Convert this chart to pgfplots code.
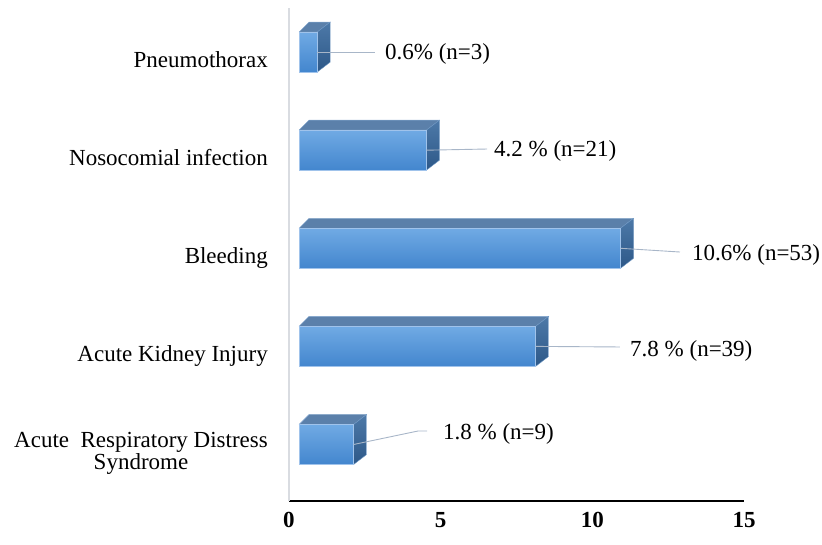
\documentclass[border=0pt]{standalone}
\usepackage{pgfplots}
\pgfplotsset{compat=1.18}
\usepackage{fontspec}
\setmainfont{Liberation Serif}

\definecolor{fronttop}{RGB}{112,170,228}
\definecolor{frontbot}{RGB}{67,134,206}
\definecolor{topc}{RGB}{91,128,170}
\definecolor{sidetop}{RGB}{77,121,168}
\definecolor{sidebot}{RGB}{45,88,136}
\definecolor{edgec}{RGB}{160,195,235}
\definecolor{leaderc}{RGB}{168,182,200}
\definecolor{yaxisc}{RGB}{217,220,225}

% geometry of the 3-D bars (axis units)
\def\xo{0.33}   % front face starts here
\def\hh{0.2039} % half height of the front face
\def\dyy{0.1019}% depth, vertical
\def\dxr{0.4286}% depth, horizontal (right)
\def\dxl{0.33}  % depth, horizontal (left)

\pgfplotsset{
  frontface/.style={mark=none, draw=edgec, line width=0.4pt, top color=fronttop, bottom color=frontbot},
  topface/.style={mark=none, draw=edgec!60!topc, line width=0.4pt, fill=topc},
  sideface/.style={mark=none, draw=edgec!40!sidetop, line width=0.4pt, top color=sidetop, bottom color=sidebot},
  leader/.style={mark=none, draw=leaderc, line width=0.9pt},
}

% #1 = category index, #2 = value (%)
\newcommand\threedbar[2]{%
  \pgfmathsetmacro\xa{\xo}%
  \pgfmathsetmacro\xb{\xo+#2}%
  \pgfmathsetmacro\xc{\xo+#2+\dxr}%
  \pgfmathsetmacro\xd{\xo+\dxl}%
  \pgfmathsetmacro\ya{#1-\hh}%
  \pgfmathsetmacro\yb{#1+\hh}%
  \pgfmathsetmacro\yc{#1+\hh+\dyy}%
  \pgfmathsetmacro\yd{#1-\hh+\dyy}%
  \edef\temp{%
    \noexpand\addplot[topface] coordinates {(\xa,\yb) (\xb,\yb) (\xc,\yc) (\xd,\yc) (\xa,\yb)};
    \noexpand\addplot[sideface] coordinates {(\xb,\yb) (\xc,\yc) (\xc,\yd) (\xb,\ya) (\xb,\yb)};
    \noexpand\addplot[frontface] coordinates {(\xa,\ya) (\xb,\ya) (\xb,\yb) (\xa,\yb) (\xa,\ya)};
  }\temp
}

\begin{document}
\fontsize{23}{20}\selectfont
\begin{tikzpicture}
\useasboundingbox (-289pt,-43pt) rectangle (533pt,501pt);
\begin{axis}[
  scale only axis,
  width=455pt, height=493pt,
  xmin=0, xmax=15,
  ymin=-0.576, ymax=4.4495,
  axis x line*=bottom,
  axis y line*=left,
  x axis line style={black, line width=1.3pt},
  y axis line style={yaxisc, line width=1.3pt},
  major tick length=0pt,
  xtick={0,5,10,15},
  xticklabels={0,5,10,15},
  xticklabel style={font=\fontsize{23}{20}\selectfont\bfseries, anchor=north, inner sep=0pt, yshift=-11pt},
  ytick={0,1,2,3,4},
  yticklabels={
    {\raisebox{11.5pt}{\begin{tabular}[t]{@{}c@{}}Acute\ \ Respiratory Distress\\Syndrome\end{tabular}}},
    Acute Kidney Injury,
    Bleeding,
    Nosocomial infection,
    Pneumothorax},
  yticklabel style={font=\fontsize{23}{20}\selectfont, anchor=base east, inner sep=0pt, xshift=-21pt, yshift=-15pt},
  clip=false,
]
% values in percent
\threedbar{0}{1.8}
\threedbar{1}{7.8}
\threedbar{2}{10.6}
\threedbar{3}{4.2}
\threedbar{4}{0.6}

% leader lines
\addplot[leader] coordinates {(0.93,4.0) (2.835,4.0)};
\addplot[leader] coordinates {(4.53,3.0) (6.528,3.012)};
\addplot[leader] coordinates {(10.93,2.0) (12.89,1.962)};
\addplot[leader] coordinates {(8.13,1.0) (10.912,0.994)};
\addplot[leader] coordinates {(2.13,0.0) (4.253,0.1375) (4.55,0.1375)};

% data labels
\node[anchor=base west, inner sep=0pt, font=\fontsize{23}{20}\selectfont] at (axis cs:3.165,3.92) {0.6\% (n=3)};
\node[anchor=base west, inner sep=0pt, font=\fontsize{23}{20}\selectfont] at (axis cs:6.758,2.931) {4.2 \% (n=21)};
\node[anchor=base west, inner sep=0pt, font=\fontsize{23}{20}\selectfont] at (axis cs:13.286,1.871) {10.6\% (n=53)};
\node[anchor=base west, inner sep=0pt, font=\fontsize{23}{20}\selectfont] at (axis cs:11.242,0.902) {7.8 \% (n=39)};
\node[anchor=base west, inner sep=0pt, font=\fontsize{23}{20}\selectfont] at (axis cs:5.077,0.046) {1.8 \% (n=9)};
\end{axis}
\end{tikzpicture}
\end{document}
